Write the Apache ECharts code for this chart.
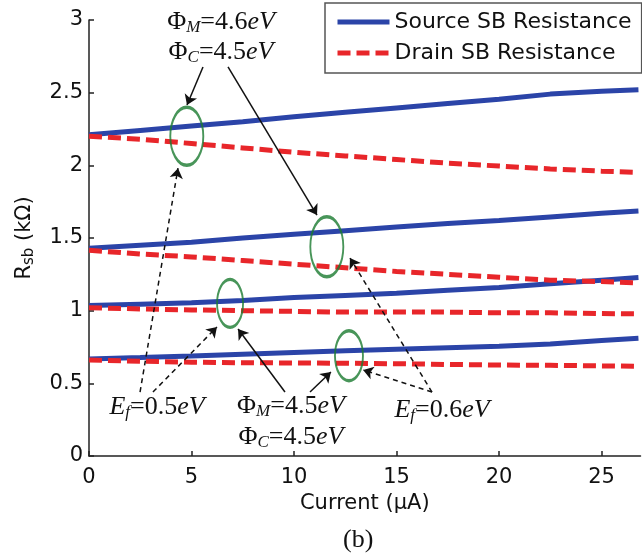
<!DOCTYPE html>
<html>
<head>
<meta charset="utf-8">
<script src="https://cdn.jsdelivr.net/npm/echarts@6/dist/echarts.min.js"></script>
<style>
  html, body { margin: 0; padding: 0; background: #fff; }
  #chart { width: 642px; height: 557px; }
</style>
</head>
<body>
<div id="chart"></div>
<script>
// current (µA) sample points
const current = [0, 2.5, 5, 7.5, 10, 12.5, 15, 17.5, 20, 22.5, 25, 26.8];

// Rsb (kΩ), four device cases, source and drain
const source1 = [2.21, 2.24, 2.27, 2.30, 2.335, 2.365, 2.395, 2.425, 2.455, 2.49, 2.51, 2.52];
const drain1 = [2.20, 2.18, 2.15, 2.12, 2.09, 2.065, 2.04, 2.015, 1.995, 1.975, 1.96, 1.952];
const source2 = [1.43, 1.45, 1.47, 1.50, 1.525, 1.55, 1.575, 1.60, 1.62, 1.645, 1.67, 1.686];
const drain2 = [1.415, 1.39, 1.37, 1.345, 1.32, 1.295, 1.27, 1.25, 1.23, 1.21, 1.20, 1.19];
const source3 = [1.035, 1.045, 1.055, 1.07, 1.09, 1.105, 1.12, 1.14, 1.16, 1.185, 1.21, 1.228];
const drain3 = [1.02, 1.012, 1.005, 1.0, 0.995, 0.99, 0.99, 0.99, 0.985, 0.985, 0.98, 0.978];
const source4 = [0.667, 0.677, 0.688, 0.70, 0.712, 0.724, 0.735, 0.745, 0.755, 0.77, 0.795, 0.81];
const drain4 = [0.66, 0.652, 0.645, 0.642, 0.64, 0.638, 0.635, 0.63, 0.626, 0.624, 0.62, 0.617];

const xTicks = [0, 5, 10, 15, 20, 25];
const yTicks = [0, 0.5, 1, 1.5, 2, 2.5, 3];

// highlighted spots (ellipses) in data coordinates
const ellipseCenters = [[4.77, 2.2], [11.6, 1.44], [6.88, 1.05], [12.68, 0.69]];
const ellipseSizes = [[33, 58], [33, 60], [26, 48], [28, 50]];

// annotation arrows: [from, to] in data coordinates
const solidArrows = [
  [[5.56, 2.677], [4.78, 2.415]],
  [[6.78, 2.677], [11.12, 1.658]],
  [[9.56, 0.44], [7.27, 0.874]],
  [[10.78, 0.44], [11.8, 0.578]]
];
const dashedArrows = [
  [[2.49, 0.44], [4.34, 1.98]],
  [[3.12, 0.44], [6.24, 0.888]],
  [[16.73, 0.44], [13.37, 0.592]],
  [[16.73, 0.44], [12.73, 1.362]]
];

// annotation texts
const noteTexts = [
  '{n|Φ}{s|M}{n|=4.6}{i|eV}',
  '{n|Φ}{s|C}{n|=4.5}{i|eV}',
  '{i|E}{s|f}{n|=0.5}{i|eV}',
  '{n|Φ}{s|M}{n|=4.5}{i|eV}',
  '{n|Φ}{s|C}{n|=4.5}{i|eV}',
  '{i|E}{s|f}{n|=0.6}{i|eV}'
];
const notePositions = [[6.44, 2.986], [6.44, 2.78], [3.32, 0.337], [9.85, 0.344], [9.85, 0.131], [17.22, 0.317]];

const SOURCE = 'Source SB Resistance';
const DRAIN = 'Drain SB Resistance';
const blue = '#2b44a8';
const red = '#e8262a';
const green = '#1a7a30';
const axisColor = '#222';
const sans = 'DejaVu Sans';
const serif = 'Liberation Serif';

const pairs = [
  [source1, drain1],
  [source2, drain2],
  [source3, drain3],
  [source4, drain4]
];

const toXY = (ys) => ys.map((v, i) => [current[i], v]);

const lineSeries = [];
pairs.forEach(([s, d]) => {
  lineSeries.push({
    name: SOURCE,
    type: 'line',
    symbol: 'none',
    data: toXY(s),
    lineStyle: { color: blue, width: 5 },
    itemStyle: { color: blue },
    z: 2
  });
  lineSeries.push({
    name: DRAIN,
    type: 'line',
    symbol: 'none',
    data: toXY(d),
    lineStyle: { color: red, width: 5, type: [13, 6] },
    itemStyle: { color: red },
    z: 3
  });
});

const arrowLine = (pts, dashed) => [
  { coord: pts[0], symbol: 'none' },
  { coord: pts[1], lineStyle: { color: '#111', width: 1.5, type: dashed ? [5, 4] : 'solid' } }
];

const richStyle = {
  n: { fontFamily: serif, fontSize: 26, color: '#111', lineHeight: 28 },
  i: { fontFamily: serif, fontSize: 26, fontStyle: 'italic', color: '#111', lineHeight: 28 },
  s: { fontFamily: serif, fontSize: 17, fontStyle: 'italic', color: '#111', lineHeight: 13, verticalAlign: 'bottom' }
};

const noteSeries = {
  name: 'notes',
  type: 'scatter',
  symbol: 'circle',
  data: ellipseCenters.map((c, i) => ({ value: c, symbolSize: ellipseSizes[i] })),
  itemStyle: { color: 'rgba(0,0,0,0)', borderColor: green, borderWidth: 2.5 },
  z: 5,
  silent: true,
  markLine: {
    silent: true,
    symbol: ['none', 'arrow'],
    symbolSize: 10,
    label: { show: false },
    emphasis: { disabled: true },
    data: [
      ...solidArrows.map((a) => arrowLine(a, false)),
      ...dashedArrows.map((a) => arrowLine(a, true))
    ]
  },
  markPoint: {
    silent: true,
    symbol: 'circle',
    symbolSize: 1,
    itemStyle: { color: 'rgba(0,0,0,0)' },
    data: noteTexts.map((t, i) => ({
      coord: notePositions[i],
      label: { show: true, position: 'inside', formatter: t, rich: richStyle }
    }))
  }
};

const chart = echarts.init(document.getElementById('chart'));

const option = {
  animation: false,
  backgroundColor: '#fff',
  title: {
    text: '(b)',
    left: 338,
    top: 522,
    textStyle: { fontFamily: serif, fontSize: 26, fontWeight: 'normal', color: '#111' }
  },
  legend: {
    data: [SOURCE, DRAIN],
    orient: 'vertical',
    left: 325,
    top: 3,
    padding: [7, 10, 8, 10],
    itemWidth: 52,
    itemHeight: 14,
    itemGap: 7,
    borderColor: '#555',
    borderWidth: 1.5,
    backgroundColor: '#fff',
    itemStyle: { opacity: 0 },
    lineStyle: { width: 5 },
    textStyle: { fontFamily: sans, fontSize: 22, color: '#111', lineHeight: 24 }
  },
  grid: { left: 89, right: 1.5, top: 20, bottom: 101 },
  xAxis: {
    type: 'value',
    min: 0,
    max: 26.9,
    interval: 5,
    name: 'Current (µA)',
    nameLocation: 'middle',
    nameGap: 37,
    nameTextStyle: { fontFamily: sans, fontSize: 21, color: '#111' },
    axisLine: { lineStyle: { color: axisColor, width: 1.5 } },
    axisTick: { inside: true, length: 5, lineStyle: { color: axisColor, width: 1.5 } },
    axisLabel: {
      fontFamily: sans, fontSize: 21, color: '#111', margin: 11,
      showMaxLabel: false,
      formatter: (v) => (xTicks.includes(v) ? String(v) : '')
    },
    splitLine: { show: false }
  },
  yAxis: {
    type: 'value',
    min: 0,
    max: 3,
    interval: 0.5,
    name: '{a|R}{b|sb}{a| (kΩ)}',
    nameLocation: 'middle',
    nameRotate: 90,
    nameGap: 52,
    nameTextStyle: {
      rich: {
        a: { fontFamily: sans, fontSize: 21, color: '#111', lineHeight: 24 },
        b: { fontFamily: sans, fontSize: 15, color: '#111', lineHeight: 12, verticalAlign: 'bottom' }
      }
    },
    axisLine: { show: true, lineStyle: { color: axisColor, width: 1.5 } },
    axisTick: { show: true, inside: true, length: 5, lineStyle: { color: axisColor, width: 1.5 } },
    axisLabel: {
      fontFamily: sans, fontSize: 21, color: '#111', margin: 6,
      formatter: (v) => (yTicks.includes(v) ? String(v) : '')
    },
    splitLine: { show: false }
  },
  series: [...lineSeries, noteSeries]
};

chart.setOption(option);
</script>
</body>
</html>
